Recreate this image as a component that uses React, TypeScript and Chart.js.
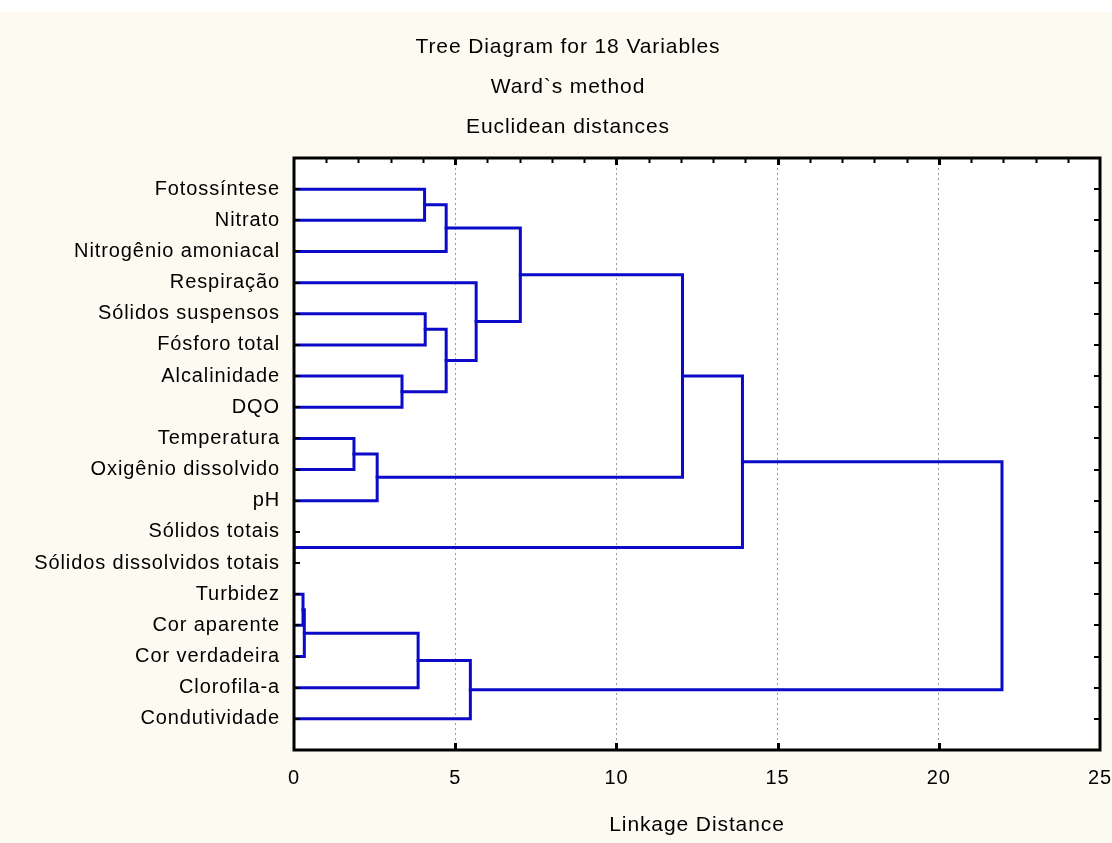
import React, { useEffect, useRef } from 'react';
import { Chart, registerables } from 'chart.js';

Chart.register(...registerables);

const titleLines = ['Tree Diagram for 18 Variables', 'Ward`s method', 'Euclidean distances'];
const xAxisTitle = 'Linkage Distance';

const leafLabels = [
  'Fotossíntese',
  'Nitrato',
  'Nitrogênio amoniacal',
  'Respiração',
  'Sólidos suspensos',
  'Fósforo total',
  'Alcalinidade',
  'DQO',
  'Temperatura',
  'Oxigênio dissolvido',
  'pH',
  'Sólidos totais',
  'Sólidos dissolvidos totais',
  'Turbidez',
  'Cor aparente',
  'Cor verdadeira',
  'Clorofila-a',
  'Condutividade',
];

// merge i creates cluster id = leafLabels.length + i
const mergeLeft = [0, 18, 4, 6, 20, 3, 19, 8, 25, 24, 11, 27, 13, 30, 31, 32, 29];
const mergeRight = [1, 2, 5, 7, 21, 22, 23, 9, 10, 26, 12, 28, 14, 15, 16, 17, 33];
const mergeHeight = [4.05, 4.72, 4.07, 3.35, 4.72, 5.65, 7.02, 1.86, 2.58, 12.05, 0.0, 13.91, 0.28, 0.32, 3.85, 5.47, 21.96];

const xTickValues = [0, 5, 10, 15, 20, 25];

const FONT_FAMILY = '"Liberation Sans", Arial, sans-serif';
const FONT_SIZE = 20;
const TITLE_SIZE = 21;
const LETTER_SPACING = '0.9px';
const LINE_COLOR = '#0a0ac8';
const BG_COLOR = '#fcfaf1';

function buildDatasets() {
  const nodeX: number[] = leafLabels.map(() => 0);
  const nodeY: number[] = leafLabels.map((_, i) => i + 1);
  return mergeHeight.map((h, i) => {
    const a = mergeLeft[i];
    const b = mergeRight[i];
    const pts = [
      { x: nodeX[a], y: nodeY[a] },
      { x: h, y: nodeY[a] },
      { x: h, y: nodeY[b] },
      { x: nodeX[b], y: nodeY[b] },
    ];
    nodeX.push(h);
    nodeY.push((nodeY[a] + nodeY[b]) / 2);
    return {
      data: pts,
      showLine: true,
      borderColor: LINE_COLOR,
      backgroundColor: LINE_COLOR,
      borderWidth: 3,
      pointRadius: 0,
      pointHoverRadius: 0,
      fill: false,
      tension: 0,
      borderJoinStyle: 'miter' as const,
      borderCapStyle: 'square' as const,
    };
  });
}

const decorPlugin = {
  id: 'decor',
  beforeDraw(chart: any) {
    const { ctx, width, height, chartArea } = chart;
    ctx.save();
    ctx.fillStyle = BG_COLOR;
    ctx.fillRect(0, 0, width, height);
    ctx.fillStyle = '#ffffff';
    ctx.fillRect(0, 0, width, 12);
    ctx.fillRect(chartArea.left, chartArea.top, chartArea.right - chartArea.left, chartArea.bottom - chartArea.top);
    ctx.restore();
    (ctx as any).letterSpacing = LETTER_SPACING;
  },
  afterDatasetsDraw(chart: any) {
    const { ctx, chartArea } = chart;
    const xs = chart.scales.x;
    const ys = chart.scales.y;
    const { left, right, top, bottom } = chartArea;
    ctx.save();
    ctx.strokeStyle = '#000000';
    ctx.lineCap = 'butt';
    for (let v = 1; v < 25; v++) {
      const px = Math.round(xs.getPixelForValue(v)) + 0.5;
      const major = v % 5 === 0;
      ctx.lineWidth = major ? 3 : 2;
      ctx.beginPath();
      ctx.moveTo(px, top);
      ctx.lineTo(px, top + (major ? 7 : 5));
      ctx.stroke();
      if (major) {
        ctx.beginPath();
        ctx.moveTo(px, bottom);
        ctx.lineTo(px, bottom - 7);
        ctx.stroke();
      }
    }
    ctx.lineWidth = 2;
    for (let i = 1; i <= leafLabels.length; i++) {
      const py = Math.round(ys.getPixelForValue(i));
      ctx.beginPath();
      ctx.moveTo(left, py);
      ctx.lineTo(left + 6, py);
      ctx.stroke();
      ctx.beginPath();
      ctx.moveTo(right, py);
      ctx.lineTo(right - 6, py);
      ctx.stroke();
    }
    ctx.lineWidth = 3;
    ctx.strokeRect(left, top, right - left, bottom - top);
    ctx.restore();
  },
  afterDraw(chart: any) {
    const { ctx } = chart;
    ctx.save();
    (ctx as any).letterSpacing = LETTER_SPACING;
    ctx.fillStyle = '#000000';
    ctx.font = `${TITLE_SIZE}px ${FONT_FAMILY}`;
    ctx.textAlign = 'center';
    ctx.textBaseline = 'middle';
    const ys = [47, 87, 127];
    titleLines.forEach((t, i) => ctx.fillText(t, 568, ys[i]));
    ctx.restore();
  },
};

export default function App() {
  const canvasRef = useRef<HTMLCanvasElement | null>(null);

  useEffect(() => {
    if (!canvasRef.current) return;
    const font = { family: FONT_FAMILY, size: FONT_SIZE };
    const chart = new Chart(canvasRef.current, {
      type: 'scatter',
      data: { datasets: buildDatasets() as any },
      plugins: [decorPlugin],
      options: {
        animation: false,
        responsive: true,
        maintainAspectRatio: false,
        devicePixelRatio: 1,
        events: [],
        layout: { padding: { top: 158, right: 12, bottom: 0, left: 0 } },
        plugins: {
          legend: { display: false },
          tooltip: { enabled: false },
          title: { display: false },
        },
        scales: {
          x: {
            type: 'linear',
            min: 0,
            max: 25,
            afterBuildTicks: (s: any) => {
              s.ticks = xTickValues.map((v) => ({ value: v }));
            },
            afterFit: (s: any) => {
              s.height = 93;
            },
            ticks: {
              font: { family: FONT_FAMILY, size: FONT_SIZE, lineHeight: 2.8 },
              color: '#000000',
              padding: 0,
              autoSkip: false,
              maxRotation: 0,
              callback: (v: any) => String(v),
            },
            grid: {
              drawTicks: false,
              lineWidth: 1,
              color: (c: any) =>
                c.tick && c.tick.value > 0 && c.tick.value < 25 ? '#9a9a9a' : 'rgba(0,0,0,0)',
            },
            border: { display: false, dash: [2, 3] },
            title: {
              display: true,
              text: xAxisTitle,
              font: { family: FONT_FAMILY, size: TITLE_SIZE },
              color: '#000000',
              padding: { top: 0, bottom: 5 },
            },
          },
          y: {
            type: 'linear',
            reverse: true,
            min: 0,
            max: 19,
            afterBuildTicks: (s: any) => {
              s.ticks = leafLabels.map((_, i) => ({ value: i + 1 }));
            },
            afterFit: (s: any) => {
              s.width = 294;
            },
            ticks: {
              font,
              color: '#000000',
              padding: 6,
              autoSkip: false,
              callback: (v: any) => leafLabels[Number(v) - 1] ?? '',
            },
            grid: { display: false },
            border: { display: false },
          },
        },
      },
    });
    return () => chart.destroy();
  }, []);

  return (
    <div style={{ position: 'absolute', left: 0, top: 0, width: 1112, height: 843 }}>
      <canvas ref={canvasRef} />
    </div>
  );
}
